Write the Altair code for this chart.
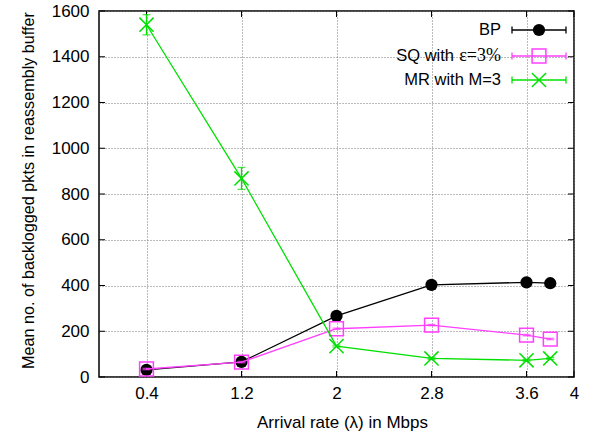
import altair as alt
import pandas as pd

# ---- data ----
x_vals = [0.4, 1.2, 2.0, 2.8, 3.6, 3.8]
bp_vals = [31, 66, 267, 403, 414, 410]
bp_err = [3, 3, 3, 3, 3, 3]
sq_vals = [35, 65, 211, 227, 183, 166]
sq_err = [3, 3, 3, 3, 3, 3]
mr_vals = [1540, 868, 135, 81, 73, 81]
mr_err = [44, 48, 4, 4, 4, 4]

series_names = ["BP", "SQ with ε=3%", "MR with M=3"]
# legend text split into sans part and (optional) serif part
legend_sans = ["BP", "SQ with", "MR with M=3"]
legend_serif = ["", "ε=3%", ""]
series_colors = ["#000000", "#ff40ff", "#00e000"]

x_ticks = [0.4, 1.2, 2.0, 2.8, 3.6, 4.0]
y_ticks = [0, 200, 400, 600, 800, 1000, 1200, 1400, 1600]

x_title = "Arrival rate (λ) in Mbps"
y_title = "Mean no. of backlogged pkts in reassembly buffer"

FONT = "Liberation Sans"
SERIF = "Liberation Serif"
W, H = 475, 366

XSCALE = alt.Scale(domain=[0, 4], nice=False, zero=False)
YSCALE = alt.Scale(domain=[0, 1600], nice=False, zero=False)

XAXIS = alt.Axis(values=x_ticks, format=".1~f", title=x_title, grid=True,
                 labelFlush=False, labelOverlap=False, labelPadding=8,
                 titleX=243, titleY=50, titleAlign="center",
                 titleBaseline="alphabetic", titleFontSize=17)
YAXIS = alt.Axis(values=y_ticks, format="d", title=y_title, grid=True, labelPadding=10,
                 labelOverlap=False, titleAngle=-90, titleX=-66, titleY=179,
                 titleAlign="center", titleBaseline="alphabetic", titleFontSize=16.2)


def X(field):
    return alt.X(field, type="quantitative", scale=XSCALE, axis=XAXIS)


def Y(field):
    return alt.Y(field, type="quantitative", scale=YSCALE, axis=YAXIS)


CROSS = "M-1,-1L1,1M-1,1L1,-1"

layers = []

# inward tick marks (gnuplot style) on all four sides
ydf = pd.DataFrame({"y": y_ticks})
xdf = pd.DataFrame({"x": x_ticks})
layers.append(alt.Chart(ydf).mark_rule(color="black", strokeWidth=1).encode(
    y=Y("y"), x=alt.value(0), x2=alt.value(6)))
layers.append(alt.Chart(ydf).mark_rule(color="black", strokeWidth=1).encode(
    y=Y("y"), x=alt.value(W - 6), x2=alt.value(W)))
layers.append(alt.Chart(xdf).mark_rule(color="black", strokeWidth=1).encode(
    x=X("x"), y=alt.value(H - 6), y2=alt.value(H)))
layers.append(alt.Chart(xdf).mark_rule(color="black", strokeWidth=1).encode(
    x=X("x"), y=alt.value(0), y2=alt.value(6)))

all_vals = [bp_vals, sq_vals, mr_vals]
all_err = [bp_err, sq_err, mr_err]
legend_y = [19, 45, 69]


def marker(chart, i, col):
    if i == 0:
        return chart.mark_point(shape="circle", filled=True, color=col, opacity=1, size=150)
    if i == 1:
        return chart.mark_point(shape="square", filled=False, color=col, opacity=1,
                                size=190, strokeWidth=1.5)
    return chart.mark_point(shape=CROSS, filled=False, color=col, opacity=1,
                            size=200, strokeWidth=1.5)


for i, name in enumerate(series_names):
    col = series_colors[i]
    df = pd.DataFrame({
        "x": x_vals,
        "y": all_vals[i],
        "lo": [v - e for v, e in zip(all_vals[i], all_err[i])],
        "hi": [v + e for v, e in zip(all_vals[i], all_err[i])],
    })
    base = alt.Chart(df)
    layers.append(base.mark_line(color=col, strokeWidth=1.3).encode(x=X("x"), y=Y("y")))
    layers.append(base.mark_rule(color=col, strokeWidth=1.3).encode(
        x=X("x"), y=Y("lo"), y2="hi"))
    for fld in ["lo", "hi"]:
        layers.append(base.mark_tick(color=col, orient="horizontal", size=8,
                                     thickness=1.3).encode(x=X("x"), y=Y(fld)))
    layers.append(marker(base, i, col).encode(x=X("x"), y=Y("y")))

    # legend entry
    ly = legend_y[i]
    ldf = pd.DataFrame({"sans": [legend_sans[i]], "serif": [legend_serif[i]]})
    lb = alt.Chart(ldf)
    if legend_serif[i]:
        layers.append(lb.mark_text(align="right", baseline="middle", font=SERIF,
                                   fontSize=18, color="black").encode(
            x=alt.value(402), y=alt.value(ly), text="serif:N"))
        layers.append(lb.mark_text(align="right", baseline="middle", font=FONT,
                                   fontSize=16.5, color="black").encode(
            x=alt.value(355), y=alt.value(ly), text="sans:N"))
    else:
        layers.append(lb.mark_text(align="right", baseline="middle", font=FONT,
                                   fontSize=16.5, color="black").encode(
            x=alt.value(402), y=alt.value(ly), text="sans:N"))
    layers.append(lb.mark_rule(color=col, strokeWidth=1.3).encode(
        x=alt.value(413), x2=alt.value(467), y=alt.value(ly)))
    for xe in [413, 467]:
        layers.append(lb.mark_rule(color=col, strokeWidth=1.3).encode(
            x=alt.value(xe), y=alt.value(ly - 3.5), y2=alt.value(ly + 3.5)))
    layers.append(marker(lb, i, col).encode(x=alt.value(440), y=alt.value(ly)))

chart = alt.layer(*layers).properties(
    width=W, height=H,
    autosize=alt.AutoSizeParams(type="none"),
    padding={"left": 99, "top": 11, "right": 22, "bottom": 62},
    background="white",
).configure_view(
    stroke="black", strokeWidth=1.5
).configure_axis(
    domain=False, ticks=False,
    gridColor="#777777", gridDash=[1, 2], gridWidth=1, gridOpacity=1,
    labelFont=FONT, labelFontSize=17, labelColor="black",
    titleFont=FONT, titleFontWeight="normal", titleColor="black",
)

chart.save("out.html", embed_options={"renderer": "svg", "actions": False})
